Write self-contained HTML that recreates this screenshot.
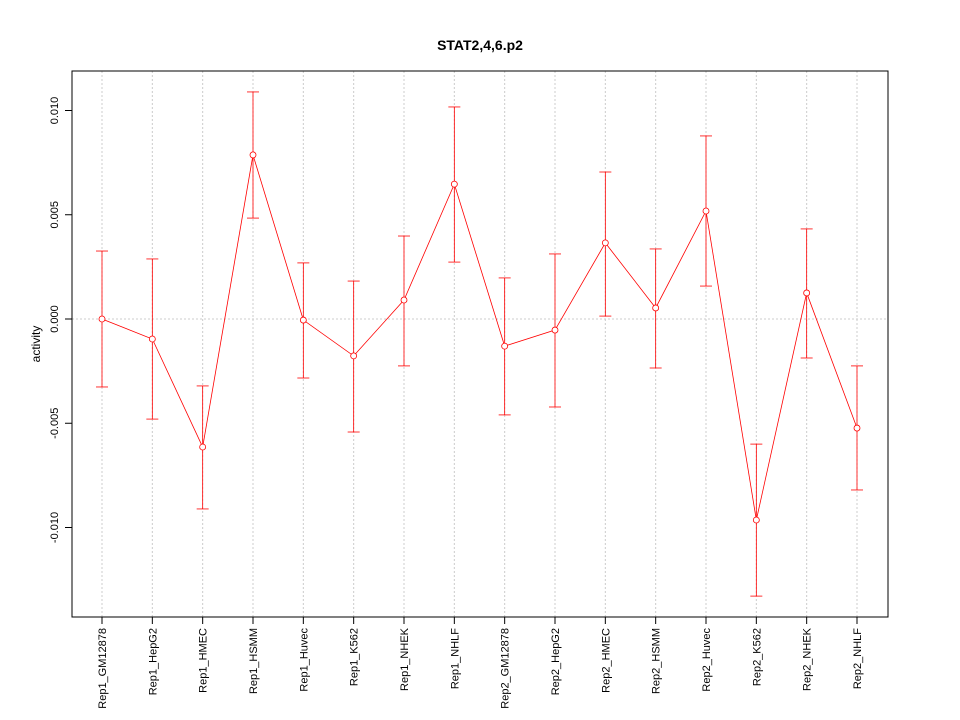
<!DOCTYPE html>
<html><head><meta charset="utf-8"><style>
body{margin:0;background:#fff}
svg{display:block;font-family:"Liberation Sans",Arial,sans-serif}
</style></head><body>
<svg id="chart" width="960" height="720">
<rect width="960" height="720" fill="#fff"/>
<text x="480" y="50" text-anchor="middle" font-size="14" font-weight="bold">STAT2,4,6.p2</text>
<text transform="translate(40,344) rotate(-90)" text-anchor="middle" font-size="12">activity</text>
<g id="grid"></g><g id="axes"></g><g id="marks"></g>
<rect x="72" y="71" width="816" height="546" fill="none" stroke="#000"/>
</svg>
<script>
const categories=["Rep1_GM12878","Rep1_HepG2","Rep1_HMEC","Rep1_HSMM","Rep1_Huvec","Rep1_K562","Rep1_NHEK","Rep1_NHLF","Rep2_GM12878","Rep2_HepG2","Rep2_HMEC","Rep2_HSMM","Rep2_Huvec","Rep2_K562","Rep2_NHEK","Rep2_NHLF"];
const values=[0,-0.00096,-0.00614,0.00787,-0.00005,-0.00177,0.00091,0.00647,-0.0013,-0.00053,0.00365,0.00053,0.00518,-0.00964,0.00125,-0.00523];
const upper=[0.00326,0.00288,-0.00321,0.01089,0.00269,0.00182,0.00398,0.01017,0.00197,0.00312,0.00705,0.00336,0.00878,-0.006,0.00432,-0.00225];
const lower=[-0.00326,-0.0048,-0.00911,0.00484,-0.00283,-0.00542,-0.00225,0.00273,-0.0046,-0.00422,0.00014,-0.00235,0.00158,-0.01329,-0.00187,-0.0082];
const yTicks=[-0.010,-0.005,0.000,0.005,0.010];
const yTickLabels=["-0.010","-0.005","0.000","0.005","0.010"];
const NS="http://www.w3.org/2000/svg";
const x=i=>102+i*(857-102)/(categories.length-1);
const y=v=>319-v*20850;
function mk(tag,attrs,parent){const e=document.createElementNS(NS,tag);for(const k in attrs)e.setAttribute(k,attrs[k]);document.getElementById(parent).appendChild(e);return e;}
categories.forEach((c,i)=>{
  const g=mk("line",{x1:x(i),x2:x(i),y1:71,y2:617,stroke:"#ccc","stroke-dasharray":"2,2"},"grid");
  
  
  const t=mk("line",{x1:x(i),x2:x(i),y1:617,y2:624,stroke:"#000"},"axes");
  
  
  const l=mk("text",{transform:`translate(${x(i)+4},628) rotate(-90)`,"text-anchor":"end","font-size":"11"},"axes");
  l.textContent=c;
  
  
});
yTicks.forEach((v,i)=>{
  if(v===0){const h=mk("line",{x1:72,x2:888,y1:y(v),y2:y(v),stroke:"#ccc","stroke-dasharray":"2,2"},"grid");
  
  }
  const t=mk("line",{x1:65,x2:72,y1:y(v),y2:y(v),stroke:"#000"},"axes");
  
  
  const l=mk("text",{transform:`translate(58,${y(v)}) rotate(-90)`,"text-anchor":"middle","font-size":"11"},"axes");
  l.textContent=yTickLabels[i];
  
  
});
values.forEach((v,i)=>{
  const e=mk("line",{x1:x(i),x2:x(i),y1:y(upper[i]),y2:y(lower[i]),stroke:"#f00","stroke-width":"0.8"},"marks");
  
  
  [upper[i],lower[i]].forEach(b=>{const c=mk("line",{x1:x(i)-6,x2:x(i)+6,y1:y(b),y2:y(b),stroke:"#f00","stroke-width":"0.8"},"marks");
  
  });
});
const pl=mk("polyline",{points:values.map((v,i)=>x(i)+","+y(v)).join(" "),fill:"none",stroke:"#f00","stroke-width":"0.8"},"marks");


values.forEach((v,i)=>{
  const p=mk("circle",{cx:x(i),cy:y(v),r:3,fill:"#fff",stroke:"#f00","stroke-width":"0.8"},"marks");
  
  
});
</script>
</body></html>
